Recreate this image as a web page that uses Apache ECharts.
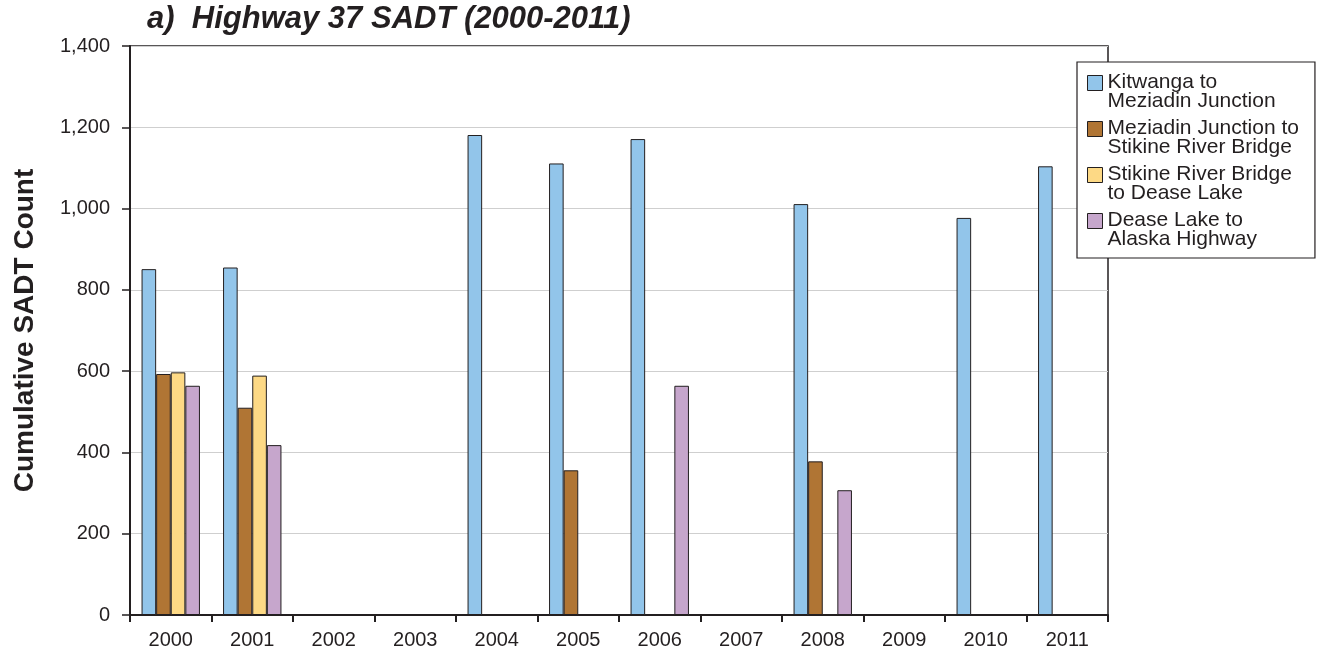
<!DOCTYPE html>
<html>
<head>
<meta charset="utf-8">
<script src="https://cdn.jsdelivr.net/npm/echarts@6/dist/echarts.min.js"></script>
<style>
html,body{margin:0;padding:0;background:#fff;}
#chart{width:1318px;height:656px;}
</style>
</head>
<body>
<div id="chart"></div>
<script>
const categories = ['2000','2001','2002','2003','2004','2005','2006','2007','2008','2009','2010','2011'];
const seriesNames = [
  'Kitwanga to\nMeziadin Junction',
  'Meziadin Junction to\nStikine River Bridge',
  'Stikine River Bridge\nto Dease Lake',
  'Dease Lake to\nAlaska Highway'
];
const kitwanga = [851, 855, null, null, 1181, 1111, 1171, null, 1011, null, 977, 1104];
const meziadin = [593, 510, null, null, null, 356, null, null, 378, null, null, null];
const stikine  = [597, 589, null, null, null, null, null, null, null, null, null, null];
const dease    = [564, 418, null, null, null, null, 564, null, 307, null, null, null];
const yTicks = [0, 200, 400, 600, 800, 1000, 1200, 1400];
const colors = ['#92c5ea', '#b07534', '#fdd985', '#c6a6cc'];

const FONT = '"Liberation Sans", Arial, sans-serif';
const INK = '#231f20';
const chart = echarts.init(document.getElementById('chart'), null, {renderer: 'canvas'});
const allData = [kitwanga, meziadin, stikine, dease];

chart.setOption({
  animation: false,
  backgroundColor: '#ffffff',
  title: {
    text: 'a)  Highway 37 SADT (2000-2011)',
    left: 147, top: 4,
    padding: 0,
    textStyle: {fontFamily: FONT, fontSize: 31, fontWeight: 'bold', fontStyle: 'italic', color: INK}
  },
  legend: {
    orient: 'vertical',
    left: 1077, top: 62,
    padding: [10, 16, 8, 10],
    itemWidth: 15, itemHeight: 33,
    itemGap: 6,
    itemTextGap: 8,
    icon: 'path://M0,0L15,0L15,15L0,15Z M0,33',
    backgroundColor: '#ffffff',
    borderColor: INK, borderWidth: 1.2,
    itemStyle: {borderColor: INK, borderWidth: 1},
    textStyle: {fontFamily: FONT, fontSize: 21, lineHeight: 19, color: INK},
    selectedMode: false,
    data: seriesNames
  },
  grid: {
    left: 130, right: 210, top: 46, bottom: 41,
    show: true, borderColor: INK, borderWidth: 1.5, backgroundColor: 'transparent'
  },
  xAxis: {
    type: 'category',
    data: categories,
    axisLine: {lineStyle: {color: INK, width: 2}},
    axisTick: {show: true, alignWithLabel: false, length: 7, lineStyle: {color: INK, width: 2}},
    axisLabel: {fontFamily: FONT, fontSize: 20, color: INK, margin: 15}
  },
  yAxis: {
    type: 'value',
    min: yTicks[0], max: yTicks[yTicks.length - 1], interval: 200,
    name: 'Cumulative SADT Count',
    nameLocation: 'middle',
    nameGap: 91,
    nameTextStyle: {fontFamily: FONT, fontSize: 28, fontWeight: 'bold', color: INK},
    axisLine: {show: true, lineStyle: {color: INK, width: 2}},
    axisTick: {show: true, length: 8, lineStyle: {color: INK, width: 1.5}},
    axisLabel: {fontFamily: FONT, fontSize: 20, color: INK, margin: 20,
      formatter: v => v.toLocaleString('en-US')},
    splitLine: {show: true, lineStyle: {color: '#cfcfcf', width: 1}}
  },
  series: seriesNames.map((name, i) => ({
    name: name,
    type: 'bar',
    data: allData[i],
    barWidth: 14.6,
    barGap: '0%',
    itemStyle: {color: colors[i], borderColor: INK, borderWidth: 1}
  }))
});
</script>
</body>
</html>
